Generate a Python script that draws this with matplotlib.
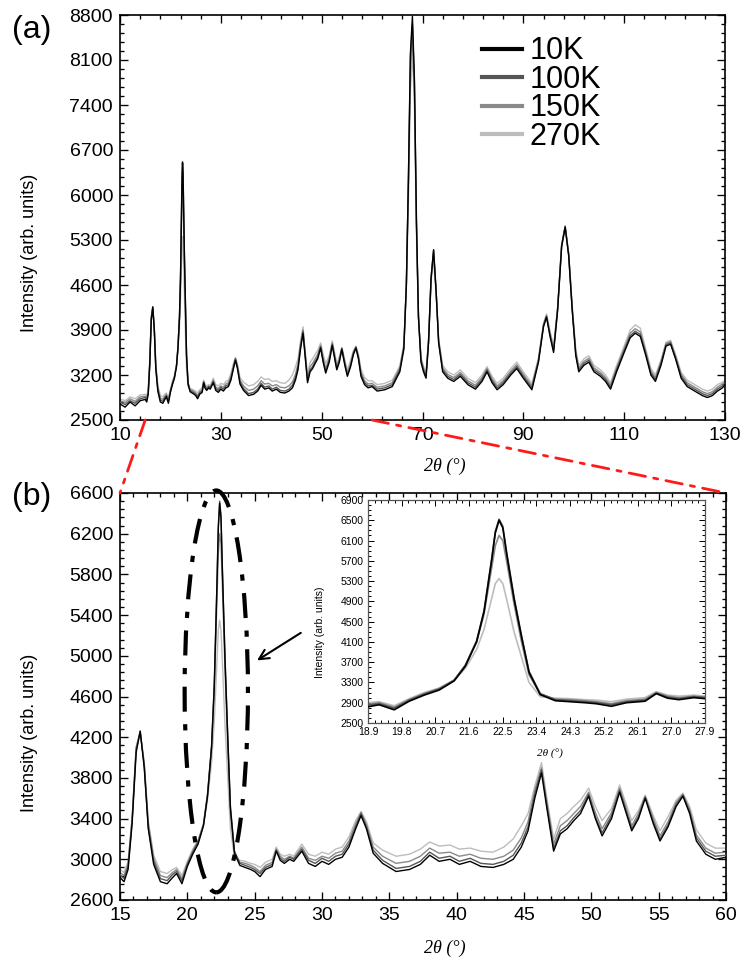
import matplotlib
matplotlib.use("Agg")
import matplotlib.pyplot as plt
from matplotlib.patches import Ellipse, ConnectionPatch
import numpy as np

plt.rcParams["font.family"] = ["Liberation Sans", "DejaVu Sans"]

# 2-theta grid (deg)
two_theta = [
    10, 11, 12, 13, 14, 15,
    15.3, 15.6, 15.9, 16.2, 16.5, 16.8, 17.1, 17.5, 18.0, 18.5,
    18.9, 19.2, 19.6, 20.0, 20.4, 20.8, 21.2, 21.5, 21.8, 22.0,
    22.2, 22.3, 22.4, 22.5, 22.6, 22.8, 23.0, 23.2, 23.5, 23.9,
    24.3, 24.7, 25.0, 25.4, 25.8, 26.3, 26.6, 26.9, 27.2, 27.6, 27.9,
    28.5, 29.0, 29.5, 30.0, 30.5, 31.0, 31.5, 32.0, 32.5, 32.9,
    33.3, 33.8, 34.5, 35.5, 36.5, 37.3, 38.0, 38.7, 39.5, 40.2,
    41.0, 41.8, 42.7, 43.5, 44.2, 44.8, 45.3, 45.8, 46.3, 46.7,
    47.2, 47.7, 48.2, 48.7, 49.2, 49.8, 50.3, 50.8, 51.5, 52.1,
    52.6, 53.0, 53.5, 54.0, 54.6, 55.1, 55.7, 56.3, 56.8, 57.3,
    57.8, 58.5, 59.2, 60.0,
    61, 62.5, 64, 65.5, 66.3, 66.8, 67.2, 67.6, 68.0, 68.4,
    68.8, 69.2, 69.7, 70.2, 70.7, 71.2, 71.7, 72.2, 72.7, 73.2,
    74.0, 75.0, 76.2, 77.5, 79.0, 80.5, 81.8, 82.8, 83.8, 84.8,
    86.0, 87.5, 88.7, 90.0, 91.7, 93.0, 94.0, 94.6, 95.3, 96.0,
    96.8, 97.6, 98.3, 99.0, 99.7, 100.4, 101.0, 102.0, 103.0, 104.0,
    105.3, 106.3, 107.3, 108.5, 110.0, 111.2, 112.2, 113.2, 114.3, 115.3,
    116.2, 117.3, 118.3, 119.2, 120.2, 121.3, 122.5, 124.0, 125.5, 126.5,
    127.5, 128.5, 129.5, 130.0,
]

i_10k = [
    2750, 2700, 2780, 2720, 2800, 2820,
    2780, 2900, 3350, 4050, 4260, 3900, 3300, 2950, 2780, 2760,
    2820, 2860, 2760, 2930, 3050, 3150, 3330, 3620, 4100, 4700,
    5700, 6250, 6500, 6350, 5850, 4950, 4200, 3500, 3060, 2940,
    2920, 2900, 2880, 2830, 2900, 2930, 3080, 2990, 2960, 3000, 2980,
    3080, 2960, 2930, 2980, 2950, 3000, 3020, 3120, 3300, 3430,
    3300, 3060, 2960, 2880, 2900, 2950, 3040, 2980, 3000, 2950,
    2980, 2930, 2920, 2950, 3000, 3120, 3280, 3600, 3850, 3500,
    3080, 3250, 3300, 3380, 3450, 3620, 3400, 3230, 3400, 3660,
    3450, 3280, 3400, 3600, 3350, 3180, 3320, 3520, 3620, 3450,
    3180, 3050, 3000, 3020,
    2950, 2970, 3020, 3250, 3600, 4600, 6200, 8200, 8780, 7800,
    5600, 4100, 3400, 3250, 3150, 3700, 4700, 5150, 4500, 3700,
    3250, 3150, 3100, 3180, 3050, 2980, 3100, 3250, 3080, 2970,
    3050, 3200, 3300, 3150, 2970, 3400, 3950, 4100, 3800, 3550,
    4200, 5200, 5500, 5050, 4200, 3500, 3250, 3350, 3400, 3250,
    3180, 3100, 2980, 3250, 3550, 3780, 3850, 3800, 3500, 3200,
    3100, 3350, 3650, 3680, 3450, 3150, 3020, 2950, 2880, 2850,
    2880, 2950, 3000, 3050,
]

i_100k = [
    2780, 2740, 2800, 2760, 2830, 2850,
    2810, 2930, 3380, 4080, 4250, 3920, 3320, 2980, 2810, 2790,
    2850, 2880, 2790, 2950, 3070, 3170, 3340, 3640, 4120, 4720,
    5720, 6280, 6520, 6380, 5880, 4980, 4220, 3520, 3080, 2960,
    2940, 2920, 2900, 2860, 2920, 2950, 3090, 3010, 2980, 3020, 3000,
    3100, 2990, 2960, 3010, 2980, 3030, 3050, 3150, 3320, 3450,
    3320, 3090, 2990, 2910, 2930, 2980, 3070, 3010, 3030, 2980,
    3010, 2960, 2950, 2980, 3040, 3160, 3320, 3640, 3880, 3530,
    3110, 3280, 3330, 3410, 3480, 3640, 3420, 3260, 3430, 3680,
    3470, 3300, 3420, 3610, 3370, 3200, 3340, 3540, 3630, 3470,
    3210, 3080, 3030, 3040,
    2980, 3000, 3050, 3280, 3630, 4630, 6230, 8150, 8650, 7750,
    5580, 4120, 3430, 3280, 3180, 3720, 4720, 5140, 4520, 3720,
    3280, 3180, 3130, 3210, 3080, 3010, 3130, 3280, 3110, 3000,
    3080, 3230, 3330, 3180, 3000, 3420, 3970, 4110, 3820, 3580,
    4230, 5220, 5510, 5070, 4220, 3530, 3280, 3380, 3430, 3280,
    3210, 3130, 3010, 3280, 3580, 3810, 3880, 3830, 3530, 3230,
    3130, 3380, 3670, 3700, 3470, 3180, 3050, 2980, 2910, 2880,
    2910, 2980, 3030, 3070,
]

i_150k = [
    2800, 2770, 2830, 2790, 2860, 2870,
    2840, 2950, 3400, 4100, 4260, 3940, 3350, 3010, 2840, 2820,
    2870, 2900, 2810, 2960, 3080, 3180, 3350, 3640, 4100, 4650,
    5550, 6000, 6200, 6100, 5700, 4850, 4100, 3450, 3070, 2970,
    2960, 2940, 2920, 2880, 2940, 2970, 3100, 3030, 3000, 3030, 3010,
    3120, 3010, 2990, 3030, 3010, 3060, 3080, 3180, 3350, 3460,
    3340, 3120, 3030, 2960, 2980, 3030, 3110, 3060, 3070, 3030,
    3050, 3010, 3000, 3030, 3090, 3210, 3370, 3680, 3900, 3560,
    3150, 3330, 3380, 3450, 3520, 3660, 3460, 3300, 3460, 3700,
    3500, 3330, 3450, 3620, 3400, 3230, 3370, 3560, 3640, 3490,
    3240, 3110, 3060, 3070,
    3010, 3030, 3080, 3310, 3650, 4600, 6100, 7900, 8450, 7600,
    5500, 4100, 3450, 3300, 3210, 3740, 4700, 5100, 4500, 3740,
    3310, 3210, 3160, 3240, 3110, 3040, 3160, 3300, 3140, 3030,
    3110, 3260, 3360, 3210, 3030, 3440, 3990, 4130, 3850, 3610,
    4250, 5230, 5520, 5090, 4250, 3560, 3310, 3410, 3460, 3310,
    3240, 3160, 3040, 3310, 3610, 3850, 3920, 3870, 3560, 3260,
    3160, 3410, 3690, 3720, 3490, 3210, 3080, 3010, 2940, 2910,
    2940, 3010, 3060, 3090,
]

i_270k = [
    2830, 2800, 2860, 2830, 2890, 2900,
    2870, 2980, 3420, 4100, 4240, 3950, 3380, 3040, 2880, 2860,
    2900, 2920, 2840, 2980, 3100, 3190, 3340, 3580, 3950, 4350,
    4950, 5250, 5350, 5250, 4950, 4300, 3800, 3300, 3020, 2990,
    2980, 2960, 2950, 2920, 2970, 3000, 3120, 3050, 3030, 3050, 3030,
    3150, 3050, 3030, 3070, 3050, 3100, 3120, 3220, 3380, 3470,
    3370, 3160, 3090, 3030, 3050, 3100, 3170, 3130, 3140, 3100,
    3110, 3080, 3070, 3120, 3200, 3330, 3450, 3720, 3950, 3600,
    3200, 3400, 3450, 3520, 3580, 3700, 3520, 3380, 3500, 3730,
    3540, 3380, 3480, 3630, 3430, 3280, 3420, 3580, 3650, 3520,
    3290, 3160, 3110, 3110,
    3050, 3070, 3120, 3340, 3680, 4550, 5900, 7600, 8200, 7400,
    5400, 4080, 3480, 3330, 3250, 3760, 4650, 5000, 4450, 3760,
    3350, 3250, 3200, 3280, 3150, 3080, 3200, 3330, 3180, 3070,
    3150, 3300, 3400, 3250, 3070, 3460, 4000, 4150, 3880, 3640,
    4250, 5200, 5480, 5080, 4270, 3600, 3350, 3450, 3500, 3350,
    3280, 3200, 3080, 3350, 3650, 3900, 3980, 3930, 3600, 3300,
    3200, 3430, 3710, 3740, 3520, 3240, 3120, 3050, 2980, 2950,
    2980, 3050, 3090, 3110,
]

labels = ["10K", "100K", "150K", "270K"]
colors = ["#000000", "#555555", "#8a8a8a", "#bdbdbd"]
series = [i_10k, i_100k, i_150k, i_270k]

W, H = 747, 965
fig = plt.figure(figsize=(W / 100, H / 100), dpi=100)

def box(l, t, r, b):
    return [l / W, 1 - b / H, (r - l) / W, (b - t) / H]

def style(ax, fs, major=6, minor=3, lw=1.2):
    ax.tick_params(which="both", direction="in", top=True, right=True, width=lw * 0.8)
    ax.tick_params(which="major", length=major, labelsize=fs, pad=5)
    ax.tick_params(which="minor", length=minor)
    for s in ax.spines.values():
        s.set_linewidth(lw)

def ticks(ax, x0, x1, dx, nx, y0, y1, dy, ny):
    ax.set_xticks(np.arange(x0, x1 + dx / 2, dx))
    ax.set_xticks(np.arange(x0, x1 + dx / 2, dx / nx), minor=True)
    ax.set_yticks(np.arange(y0, y1 + dy / 2, dy))
    ax.set_yticks(np.arange(y0, y1 + dy / 2, dy / ny), minor=True)
    ax.set_xlim(x0, x1); ax.set_ylim(y0, y1)

def draw(ax, lw):
    for y, c, lab, z in zip(series[::-1], colors[::-1], labels[::-1], [1, 2, 3, 4]):
        ax.plot(two_theta, y, color=c, lw=lw, label=lab, zorder=z)

# (a) full pattern
ax1 = fig.add_axes(box(120, 15, 725, 420))
draw(ax1, 1.0)
ticks(ax1, 10, 130, 20, 5, 2500, 8800, 700, 5)
style(ax1, 14)
h, l = ax1.get_legend_handles_labels()
leg = ax1.legend(h[::-1], l[::-1], loc="upper left", bbox_to_anchor=(0.573, 0.985),
                 frameon=False, fontsize=22, handlelength=1.3, handletextpad=0.25,
                 labelspacing=-0.05, borderpad=0)
for ln in leg.get_lines():
    ln.set_linewidth(3)

# (b) zoom 15-60
ax2 = fig.add_axes(box(120, 493, 726, 900))
draw(ax2, 1.0)
ticks(ax2, 15, 60, 5, 5, 2600, 6600, 400, 5)
style(ax2, 14)

ax2.add_patch(Ellipse((22.15, 4650), 4.7, 3950, fill=False, ec="black", lw=3,
                      ls=(0, (6, 3, 1.5, 3)), clip_on=False, zorder=6))
ax2.annotate("", xy=(25.0, 4940), xytext=(28.6, 5240),
             arrowprops=dict(arrowstyle="->,head_length=0.7,head_width=0.35", lw=1.5, color="black"))

# inset around the 22.4 deg peak
ax3 = fig.add_axes(box(368, 500, 705, 723))
draw(ax3, 1.2)
ticks(ax3, 18.9, 27.9, 0.9, 5, 2500, 6900, 400, 4)
ax3.set_xticklabels([f"{v:.1f}" for v in np.arange(18.9, 27.95, 0.9)])
style(ax3, 7.5, major=4, minor=2, lw=0.9)
ax3.tick_params(which="major", pad=3)
for s in ax3.spines.values():
    s.set_color("#555555")

# red zoom connectors
for xv in (15, 60):
    cp = ConnectionPatch(xyA=(xv, 2500), coordsA=ax1.transData, xyB=(xv, 6600), coordsB=ax2.transData,
                         color="#ff1a1a", lw=2, ls=(0, (6, 3, 1.5, 3)), zorder=10)
    fig.add_artist(cp)

# text
fig.text(12 / W, 1 - 30 / H, "(a)", fontsize=23, va="center", ha="left")
fig.text(12 / W, 1 - 497 / H, "(b)", fontsize=23, va="center", ha="left")
fig.text(30 / W, 1 - 253 / H, "Intensity (arb. units)", rotation=90, fontsize=13, va="center", ha="center")
fig.text(30 / W, 1 - 733 / H, "Intensity (arb. units)", rotation=90, fontsize=13, va="center", ha="center")
fig.text(445 / W, 1 - 466 / H, "2θ (°)", family="Liberation Serif", style="italic", fontsize=13, va="center", ha="center")
fig.text(445 / W, 1 - 948 / H, "2θ (°)", family="Liberation Serif", style="italic", fontsize=13, va="center", ha="center")
fig.text(320 / W, 1 - 632 / H, "Intensity (arb. units)", rotation=90, fontsize=7.5, va="center", ha="center")
fig.text(550 / W, 1 - 754 / H, "2θ (°)", family="Liberation Serif", style="italic", fontsize=8, va="center", ha="center")

fig.savefig("out.png", dpi=100, facecolor="white")
